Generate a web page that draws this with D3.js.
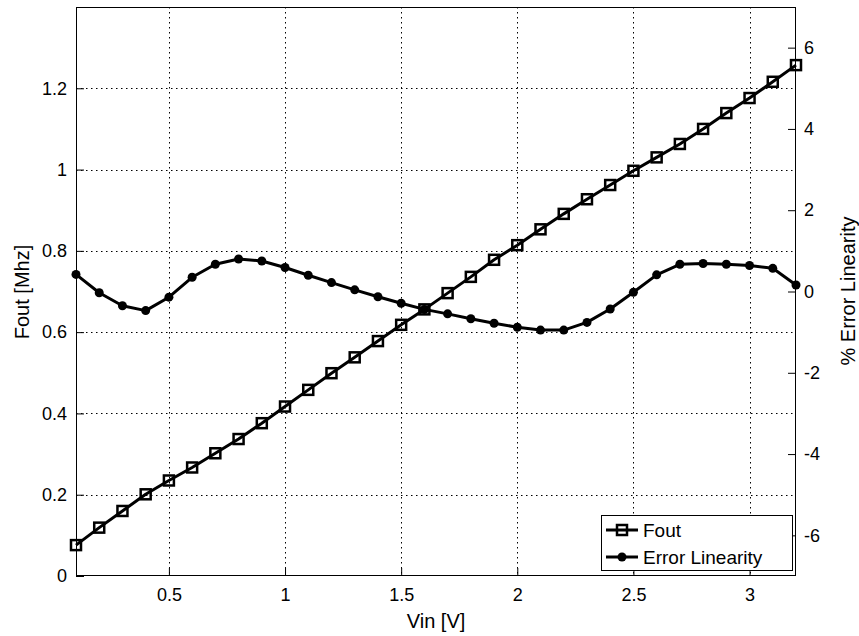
<!DOCTYPE html>
<html>
<head>
<meta charset="utf-8">
<script src="https://cdn.jsdelivr.net/npm/d3@7"></script>
<style>
  html, body { margin: 0; padding: 0; background: #fff; }
  svg { display: block; }
  text { font-family: "Liberation Sans", Arial, Helvetica, sans-serif; fill: #000; }
</style>
</head>
<body>
<svg id="chart" width="859" height="636"></svg>
<script>
// Input voltage sweep (V)
const vin = [0.1,0.2,0.3,0.4,0.5,0.6,0.7,0.8,0.9,1.0,1.1,1.2,1.3,1.4,1.5,1.6,
             1.7,1.8,1.9,2.0,2.1,2.2,2.3,2.4,2.5,2.6,2.7,2.8,2.9,3.0,3.1,3.2];
// Output frequency (MHz)
const fout = [0.076,0.119,0.160,0.201,0.235,0.267,0.302,0.337,0.376,0.417,0.458,0.499,
              0.538,0.578,0.618,0.656,0.696,0.736,0.778,0.814,0.853,0.891,0.927,0.962,
              0.997,1.030,1.063,1.100,1.139,1.176,1.216,1.257];
// Linearity error (%)
const errLin = [0.42,-0.03,-0.35,-0.47,-0.14,0.35,0.67,0.80,0.75,0.59,0.40,0.22,
                0.04,-0.13,-0.29,-0.44,-0.55,-0.67,-0.78,-0.88,-0.95,-0.95,-0.76,-0.43,
                -0.02,0.41,0.67,0.69,0.67,0.64,0.57,0.16];

const xTicks = [0.5,1,1.5,2,2.5,3];
const xTickLabels = ["0.5","1","1.5","2","2.5","3"];
const yLeftTicks = [0,0.2,0.4,0.6,0.8,1,1.2];
const yLeftTickLabels = ["0","0.2","0.4","0.6","0.8","1","1.2"];
const yRightTicks = [-6,-4,-2,0,2,4,6];
const yRightTickLabels = ["-6","-4","-2","0","2","4","6"];
const seriesNames = ["Fout","Error Linearity"];

const L = 76, R = 796, T = 7, B = 576;
const svg = d3.select("#chart");

const x = d3.scaleLinear().domain([0.1, 3.2]).range([L, R]);
const yL = d3.scaleLinear().domain([0, 1.4]).range([B, T]);
const yR = d3.scaleLinear().domain([-7, 7]).range([B, T]);

// dotted grid
const grid = svg.append("g").attr("stroke", "#000").attr("stroke-width", 1)
  .attr("stroke-dasharray", "1.5,3.5").attr("fill", "none");
grid.selectAll("line.v").data(xTicks).join("line").attr("class", "v")
  .attr("x1", d => Math.round(x(d)) + 0.5).attr("x2", d => Math.round(x(d)) + 0.5)
  .attr("y1", T).attr("y2", B);
grid.selectAll("line.h").data(yLeftTicks.filter(d => d > 0)).join("line").attr("class", "h")
  .attr("y1", d => Math.round(yL(d)) + 0.5).attr("y2", d => Math.round(yL(d)) + 0.5)
  .attr("x1", L).attr("x2", R);

// axes with inward ticks
const fs = "18px";
const gx = svg.append("g").attr("transform", `translate(0,${B})`)
  .call(d3.axisBottom(x).tickValues(xTicks).tickFormat((d, i) => xTickLabels[i])
    .tickSizeInner(-8).tickSizeOuter(0).tickPadding(12));
const gl = svg.append("g").attr("transform", `translate(${L},0)`)
  .call(d3.axisLeft(yL).tickValues(yLeftTicks).tickFormat((d, i) => yLeftTickLabels[i])
    .tickSizeInner(-8).tickSizeOuter(0).tickPadding(9));
const gr = svg.append("g").attr("transform", `translate(${R},0)`)
  .call(d3.axisRight(yR).tickValues(yRightTicks).tickFormat((d, i) => yRightTickLabels[i])
    .tickSizeInner(-8).tickSizeOuter(0).tickPadding(8));
[gx, gl, gr].forEach(g => {
  g.selectAll("text").style("font-size", fs).style("font-family", "'Liberation Sans', Arial, sans-serif");
  g.select(".domain").remove();
  g.selectAll(".tick line").attr("stroke", "#000");
});

// box
svg.append("rect").attr("x", L + 0.5).attr("y", T + 0.5)
  .attr("width", R - L - 1).attr("height", B - T - 1)
  .attr("fill", "none").attr("stroke", "#000").attr("stroke-width", 1);

// Fout series (left axis)
const lineF = d3.line().x((d, i) => x(vin[i])).y(d => yL(d));
svg.append("path").datum(fout).attr("d", lineF)
  .attr("fill", "none").attr("stroke", "#000").attr("stroke-width", 3).attr("stroke-linejoin", "round");
svg.append("g").selectAll("rect").data(fout).join("rect")
  .attr("x", (d, i) => x(vin[i]) - 5).attr("y", d => yL(d) - 5)
  .attr("width", 10).attr("height", 10)
  .attr("fill", "none").attr("stroke", "#000").attr("stroke-width", 2.5);

// Error linearity series (right axis)
const lineE = d3.line().x((d, i) => x(vin[i])).y(d => yR(d));
svg.append("path").datum(errLin).attr("d", lineE)
  .attr("fill", "none").attr("stroke", "#000").attr("stroke-width", 3).attr("stroke-linejoin", "round");
svg.append("g").selectAll("circle").data(errLin).join("circle")
  .attr("cx", (d, i) => x(vin[i])).attr("cy", d => yR(d)).attr("r", 4.5)
  .attr("fill", "#000");

// axis titles
svg.append("text").attr("x", 436).attr("y", 628).attr("text-anchor", "middle")
  .style("font-size", "20px").text("Vin [V]");
svg.append("text").attr("transform", "translate(29,292) rotate(-90)").attr("text-anchor", "middle")
  .style("font-size", "20px").text("Fout [Mhz]");
svg.append("text").attr("transform", "translate(855,291) rotate(-90)").attr("text-anchor", "middle")
  .style("font-size", "20px").text("% Error Linearity");

// legend
const lg = svg.append("g");
lg.append("rect").attr("x", 601.5).attr("y", 515.5).attr("width", 191).attr("height", 55)
  .attr("fill", "#fff").attr("stroke", "#000").attr("stroke-width", 1);
const rows = [530, 557];
rows.forEach((ry, i) => {
  lg.append("line").attr("x1", 606).attr("x2", 638).attr("y1", ry).attr("y2", ry)
    .attr("stroke", "#000").attr("stroke-width", 3);
  if (i === 0) {
    lg.append("rect").attr("x", 617).attr("y", ry - 5).attr("width", 10).attr("height", 10)
      .attr("fill", "none").attr("stroke", "#000").attr("stroke-width", 2.5);
  } else {
    lg.append("circle").attr("cx", 622).attr("cy", ry).attr("r", 4.5).attr("fill", "#000");
  }
  lg.append("text").attr("x", 643).attr("y", ry + 7).style("font-size", "19px").text(seriesNames[i]);
});
</script>
</body>
</html>
